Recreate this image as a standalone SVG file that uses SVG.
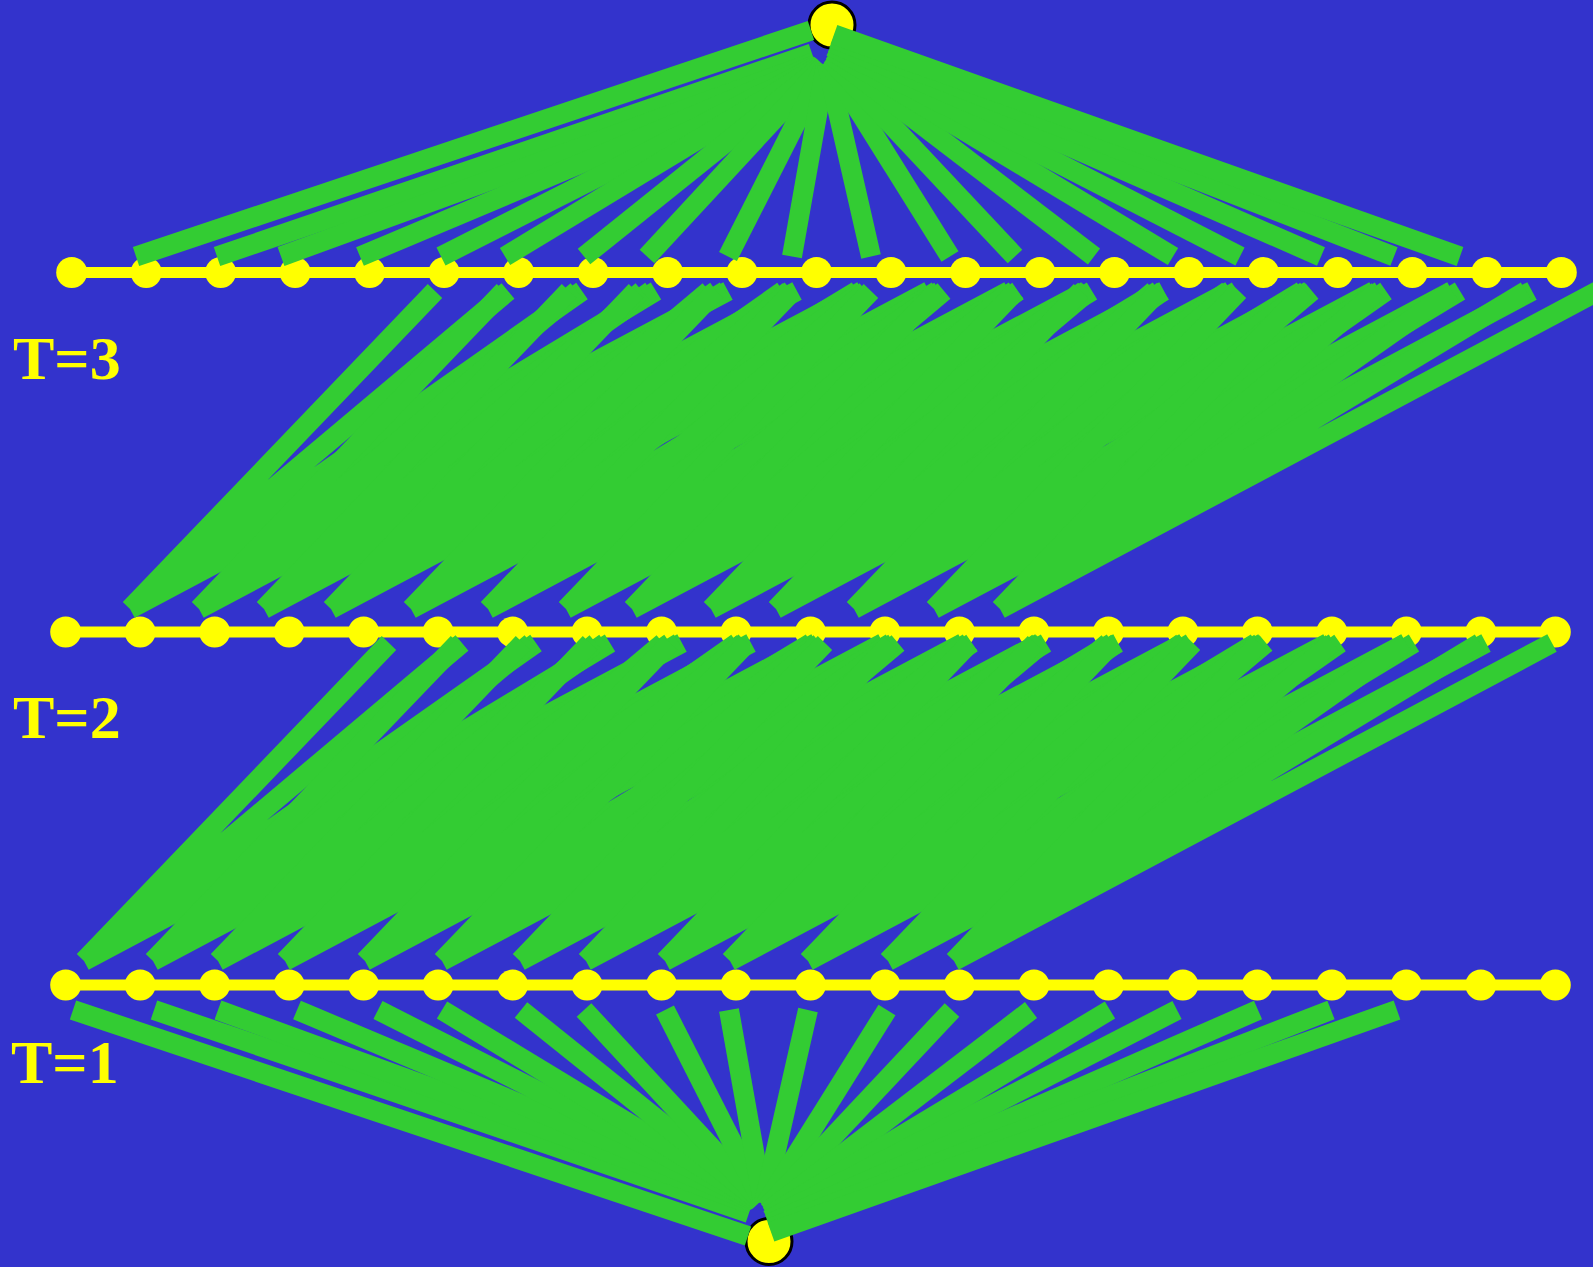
<svg xmlns="http://www.w3.org/2000/svg" xmlns:xlink="http://www.w3.org/1999/xlink" width="1593" height="1267" viewBox="0 0 1593 1267">
  <style>
    .row { stroke: #FFFF00; stroke-width: 11; fill: none; }
    .dot { fill: #FFFF00; }
    .hub { fill: #FFFF00; stroke: #000000; stroke-width: 3; }
    .edge { stroke: #33CC33; stroke-width: 20; stroke-linecap: butt; fill: none; }
    .lbl { font-family: "Liberation Serif", "Times New Roman", serif; font-weight: bold; font-size: 62px; fill: #FFFF00; }
  </style>
  <defs>
    <g id="dotrow">
      <circle class="dot" cx="0" cy="0" r="15.5"/>
      <circle class="dot" cx="74.48" cy="0" r="15.5"/>
      <circle class="dot" cx="148.96" cy="0" r="15.5"/>
      <circle class="dot" cx="223.44" cy="0" r="15.5"/>
      <circle class="dot" cx="297.92" cy="0" r="15.5"/>
      <circle class="dot" cx="372.4" cy="0" r="15.5"/>
      <circle class="dot" cx="446.88" cy="0" r="15.5"/>
      <circle class="dot" cx="521.36" cy="0" r="15.5"/>
      <circle class="dot" cx="595.84" cy="0" r="15.5"/>
      <circle class="dot" cx="670.32" cy="0" r="15.5"/>
      <circle class="dot" cx="744.8" cy="0" r="15.5"/>
      <circle class="dot" cx="819.28" cy="0" r="15.5"/>
      <circle class="dot" cx="893.76" cy="0" r="15.5"/>
      <circle class="dot" cx="968.24" cy="0" r="15.5"/>
      <circle class="dot" cx="1042.72" cy="0" r="15.5"/>
      <circle class="dot" cx="1117.2" cy="0" r="15.5"/>
      <circle class="dot" cx="1191.68" cy="0" r="15.5"/>
      <circle class="dot" cx="1266.16" cy="0" r="15.5"/>
      <circle class="dot" cx="1340.64" cy="0" r="15.5"/>
      <circle class="dot" cx="1415.12" cy="0" r="15.5"/>
      <circle class="dot" cx="1489.6" cy="0" r="15.5"/>
    </g>
    <path id="spray" class="edge" d="M0,0 l305,-318 M0,0 l378,-318 M0,0 l452,-318 M0,0 l526,-318 M0,0 l598,-318"/>
  </defs>

  <rect x="0" y="0" width="1593" height="1267" fill="#3333CC"/>

  <g id="row-t3">
    <line class="row" x1="71.7" y1="272.5" x2="1561.3" y2="272.5"/>
    <use xlink:href="#dotrow" href="#dotrow" x="71.7" y="272.5"/>
  </g>
  <g id="row-t2">
    <line class="row" x1="65.7" y1="632" x2="1555.3" y2="632"/>
    <use xlink:href="#dotrow" href="#dotrow" x="65.7" y="632"/>
  </g>
  <g id="row-t1">
    <line class="row" x1="65.7" y1="985" x2="1555.3" y2="985"/>
    <use xlink:href="#dotrow" href="#dotrow" x="65.7" y="985"/>
  </g>
  <g id="source">
    <circle class="hub" cx="769" cy="1241.5" r="23"/>
  </g>
  <g id="sink">
    <circle class="hub" cx="832" cy="25" r="23"/>
  </g>

  <g id="labels">
    <text class="lbl" x="13" y="379">T=3</text>
    <text class="lbl" x="13" y="738">T=2</text>
    <text class="lbl" x="11" y="1083">T=1</text>
  </g>

  <g id="connectors">
    <g id="fan-bottom">
      <line class="edge" x1="748" y1="1236" x2="73" y2="1010"/>
      <line class="edge" x1="749" y1="1213" x2="154" y2="1010"/>
      <line class="edge" x1="751" y1="1204" x2="218" y2="1010"/>
      <line class="edge" x1="753" y1="1202" x2="297" y2="1010"/>
      <line class="edge" x1="755" y1="1201" x2="378" y2="1010"/>
      <line class="edge" x1="757" y1="1201" x2="442" y2="1010"/>
      <line class="edge" x1="759" y1="1201" x2="521" y2="1010"/>
      <line class="edge" x1="761" y1="1201" x2="584" y2="1010"/>
      <line class="edge" x1="762" y1="1201" x2="665" y2="1010"/>
      <line class="edge" x1="763" y1="1202" x2="729" y2="1010"/>
      <line class="edge" x1="764" y1="1203" x2="808" y2="1010"/>
      <line class="edge" x1="765" y1="1205" x2="887" y2="1010"/>
      <line class="edge" x1="766" y1="1208" x2="952" y2="1010"/>
      <line class="edge" x1="767" y1="1212" x2="1031" y2="1010"/>
      <line class="edge" x1="768" y1="1216" x2="1110" y2="1010"/>
      <line class="edge" x1="768" y1="1220" x2="1177" y2="1010"/>
      <line class="edge" x1="769" y1="1224" x2="1258" y2="1010"/>
      <line class="edge" x1="770" y1="1228" x2="1331" y2="1010"/>
      <line class="edge" x1="771" y1="1232" x2="1397" y2="1010"/>
    </g>
    <g id="fan-top">
      <use xlink:href="#fan-bottom" href="#fan-bottom" transform="matrix(1 0 0 -1 63 1266.5)"/>
    </g>
    <g id="band-t1-t2">
      <use xlink:href="#spray" href="#spray" x="84" y="961"/>
      <use xlink:href="#spray" href="#spray" x="153" y="961"/>
      <use xlink:href="#spray" href="#spray" x="218" y="961"/>
      <use xlink:href="#spray" href="#spray" x="285" y="961"/>
      <use xlink:href="#spray" href="#spray" x="365" y="961"/>
      <use xlink:href="#spray" href="#spray" x="442" y="961"/>
      <use xlink:href="#spray" href="#spray" x="520" y="961"/>
      <use xlink:href="#spray" href="#spray" x="586" y="961"/>
      <use xlink:href="#spray" href="#spray" x="665" y="961"/>
      <use xlink:href="#spray" href="#spray" x="730" y="961"/>
      <use xlink:href="#spray" href="#spray" x="808" y="961"/>
      <use xlink:href="#spray" href="#spray" x="888" y="961"/>
      <use xlink:href="#spray" href="#spray" x="954" y="961"/>
    </g>
    <g id="band-t2-t3">
      <use xlink:href="#band-t1-t2" href="#band-t1-t2" transform="translate(46,-352)"/>
    </g>
  </g>
</svg>
